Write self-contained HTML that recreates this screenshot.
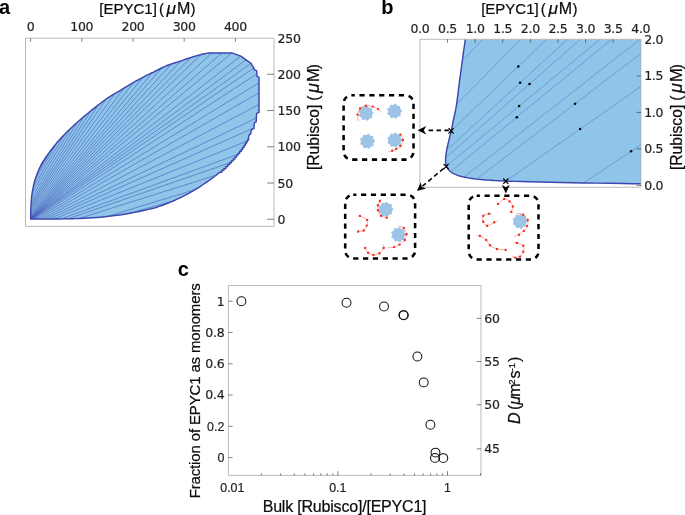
<!DOCTYPE html>
<html lang="en"><head><meta charset="utf-8"><title>Figure</title>
<style>html,body{margin:0;padding:0;background:#fff}svg{display:block}</style></head>
<body>
<svg width="685" height="515" viewBox="0 0 685 515">
<rect width="685" height="515" fill="#fff"/>
<g id="panelA">
<path d="M30.7 219 L30.71 218.5 L30.71 217.81 L30.72 216.99 L30.73 216.12 L30.74 215.27 L30.75 214.5 L30.75 213.94 L30.73 213.57 L30.72 213.21 L30.71 212.71 L30.74 211.89 L30.8 210.6 L30.89 208.73 L30.99 206.4 L31.11 203.76 L31.28 200.96 L31.5 198.15 L31.8 195.5 L32.17 192.95 L32.6 190.38 L33.08 187.81 L33.63 185.25 L34.23 182.74 L34.9 180.3 L35.66 177.88 L36.51 175.47 L37.42 173.09 L38.36 170.81 L39.3 168.66 L40.2 166.7 L41.07 164.96 L41.92 163.41 L42.78 162 L43.63 160.67 L44.51 159.35 L45.4 158 L46.29 156.65 L47.16 155.37 L48.05 154.1 L48.98 152.81 L49.99 151.46 L51.1 150 L52.3 148.44 L53.56 146.81 L54.9 145.11 L56.33 143.36 L57.85 141.55 L59.5 139.7 L61.29 137.77 L63.21 135.76 L65.24 133.7 L67.33 131.61 L69.47 129.54 L71.6 127.5 L73.76 125.49 L75.97 123.47 L78.21 121.46 L80.48 119.47 L82.75 117.52 L85 115.6 L87.3 113.69 L89.66 111.77 L92.03 109.88 L94.33 108.06 L96.51 106.35 L98.5 104.8 L100.22 103.46 L101.7 102.29 L103.06 101.24 L104.41 100.24 L105.85 99.22 L107.5 98.1 L109.37 96.91 L111.36 95.69 L113.45 94.45 L115.61 93.19 L117.8 91.91 L120 90.6 L122.31 89.21 L124.79 87.71 L127.29 86.19 L129.71 84.73 L131.92 83.41 L133.8 82.3 L135.23 81.47 L136.29 80.87 L137.14 80.41 L137.93 79.99 L138.83 79.52 L140 78.9 L141.53 78.08 L143.31 77.13 L145.19 76.12 L147.04 75.14 L148.69 74.27 L150 73.6 L150.8 73.21 L151.17 73.06 L151.35 73.02 L151.57 72.97 L152.08 72.77 L153.1 72.3 L154.72 71.49 L156.76 70.44 L159.07 69.24 L161.53 68 L163.99 66.82 L166.3 65.8 L168.49 64.95 L170.67 64.18 L172.86 63.47 L175.04 62.79 L177.22 62.11 L179.4 61.4 L181.65 60.64 L183.97 59.85 L186.3 59.06 L188.55 58.3 L190.64 57.61 L192.5 57 L194.06 56.5 L195.38 56.09 L196.54 55.74 L197.63 55.43 L198.76 55.12 L200 54.8 L201.46 54.44 L203.07 54.07 L204.72 53.71 L206.26 53.38 L207.56 53.1 L208.5 52.9 L232 52.9 L240.8 56.1 L251.3 63.7 L251.9 65.5 L253.7 67.5 L254.2 69.6 L256.6 70.7 L256.9 75 L257 76.4 L259 77.1 L259 112.3 L256.6 113.3 L256.2 121.8 L254.3 122.8 L253.9 128.5 L251.5 129.5 L250.6 134.2 L249 135.2 L248.5 138 L248.5 139.9 L247.43 139.9 L247.43 141.8 L246.35 141.8 L246.35 143.7 L245.19 143.7 L245.19 145.6 L243.95 145.6 L243.95 147.5 L242.66 147.5 L242.66 149.4 L241.26 149.4 L241.26 151.3 L239.75 151.3 L239.75 153.2 L238.18 153.2 L238.18 155.1 L236.58 155.1 L236.58 157 L234.94 157 L234.94 158.9 L233.25 158.9 L233.25 160.8 L231.51 160.8 L231.51 162.7 L229.71 162.7 L229.71 164.6 L227.84 164.6 L227.84 166.5 L225.92 166.5 L225.92 168.4 L223.95 168.4 L223.95 170.3 L221.91 170.3 L221.91 172.2 L219.78 172.2 L218.4 173.4 L216.45 175 L214.5 176.52 L212.55 177.97 L210.6 179.37 L208.65 180.74 L206.7 182.1 L204.75 183.44 L202.8 184.76 L200.84 186.04 L198.89 187.3 L196.94 188.52 L195 189.7 L193.06 190.85 L191.13 191.96 L189.2 193.03 L187.27 194.08 L185.34 195.1 L183.4 196.1 L181.46 197.08 L179.51 198.04 L177.56 198.97 L175.6 199.87 L173.65 200.75 L171.7 201.6 L169.72 202.43 L167.71 203.24 L165.69 204.02 L163.71 204.76 L161.81 205.46 L160 206.1 L158.51 206.64 L157.34 207.07 L156.24 207.46 L154.96 207.86 L153.23 208.32 L150.8 208.9 L147.52 209.64 L143.58 210.5 L139.19 211.43 L134.59 212.36 L129.98 213.23 L125.6 214 L121.41 214.66 L117.23 215.27 L113.04 215.83 L108.86 216.34 L104.68 216.79 L100.5 217.2 L96.32 217.55 L92.14 217.84 L87.97 218.07 L83.79 218.27 L79.6 218.45 L75.4 218.6 L71.11 218.73 L66.73 218.82 L62.34 218.89 L58.03 218.93 L53.89 218.97 L50 219 L46.19 219.02 L42.37 219.03 L38.71 219.03 L35.41 219.01 L32.64 219 L30.6 219 Z" fill="#8ec5e8" stroke="none"/>
<path d="M129 213.4L172.16 201.4M107 216.54L195 189.7M79 218.47L216.32 175.1M68 218.8L229.51 162.9M61 218.9L236.92 154.7M54 218.97L246.7 141.2M49 219.01L251.6 128.9M45 219.03L256.2 118M42 219.03L259 104.5M39 219.03L259 92.8M36.5 219.02L259 82.8M34.5 219.01L256.6 74M33.2 219.01L253.4 68.3M32.2 219L250.3 63.9M31.8 219L245.9 60M31.4 219L240.8 56.1M31.1 219L232 52.9M31 219L222 52.9M30.9 219L212 52.9M30.6 219L201 54.56M30.7 218.65L191 57.49M30.71 218.2L181 60.86M30.71 217.75L171.5 63.91M30.72 217.15L162 67.78M30.73 216.4L152.5 72.58M30.74 215.4L143 77.29M30.75 214L133.5 82.48M30.72 212.3L124 88.19M30.81 210.4L115 93.54M30.9 208.5L106.5 98.78M30.98 206.5L98.5 104.8M31.07 204.5L91 110.69M31.21 202L84 116.45M31.52 198L77.5 122.1M32.2 192.8L71 128.07M33.25 187L64.7 134.25M34.99 180L58 141.39M37.46 173L52 148.83M40.06 167L47.3 155.17" fill="none" stroke="#3846b2" stroke-width="0.5"/>
<path d="M30.7 219 L30.71 218.5 L30.71 217.81 L30.72 216.99 L30.73 216.12 L30.74 215.27 L30.75 214.5 L30.75 213.94 L30.73 213.57 L30.72 213.21 L30.71 212.71 L30.74 211.89 L30.8 210.6 L30.89 208.73 L30.99 206.4 L31.11 203.76 L31.28 200.96 L31.5 198.15 L31.8 195.5 L32.17 192.95 L32.6 190.38 L33.08 187.81 L33.63 185.25 L34.23 182.74 L34.9 180.3 L35.66 177.88 L36.51 175.47 L37.42 173.09 L38.36 170.81 L39.3 168.66 L40.2 166.7 L41.07 164.96 L41.92 163.41 L42.78 162 L43.63 160.67 L44.51 159.35 L45.4 158 L46.29 156.65 L47.16 155.37 L48.05 154.1 L48.98 152.81 L49.99 151.46 L51.1 150 L52.3 148.44 L53.56 146.81 L54.9 145.11 L56.33 143.36 L57.85 141.55 L59.5 139.7 L61.29 137.77 L63.21 135.76 L65.24 133.7 L67.33 131.61 L69.47 129.54 L71.6 127.5 L73.76 125.49 L75.97 123.47 L78.21 121.46 L80.48 119.47 L82.75 117.52 L85 115.6 L87.3 113.69 L89.66 111.77 L92.03 109.88 L94.33 108.06 L96.51 106.35 L98.5 104.8 L100.22 103.46 L101.7 102.29 L103.06 101.24 L104.41 100.24 L105.85 99.22 L107.5 98.1 L109.37 96.91 L111.36 95.69 L113.45 94.45 L115.61 93.19 L117.8 91.91 L120 90.6 L122.31 89.21 L124.79 87.71 L127.29 86.19 L129.71 84.73 L131.92 83.41 L133.8 82.3 L135.23 81.47 L136.29 80.87 L137.14 80.41 L137.93 79.99 L138.83 79.52 L140 78.9 L141.53 78.08 L143.31 77.13 L145.19 76.12 L147.04 75.14 L148.69 74.27 L150 73.6 L150.8 73.21 L151.17 73.06 L151.35 73.02 L151.57 72.97 L152.08 72.77 L153.1 72.3 L154.72 71.49 L156.76 70.44 L159.07 69.24 L161.53 68 L163.99 66.82 L166.3 65.8 L168.49 64.95 L170.67 64.18 L172.86 63.47 L175.04 62.79 L177.22 62.11 L179.4 61.4 L181.65 60.64 L183.97 59.85 L186.3 59.06 L188.55 58.3 L190.64 57.61 L192.5 57 L194.06 56.5 L195.38 56.09 L196.54 55.74 L197.63 55.43 L198.76 55.12 L200 54.8 L201.46 54.44 L203.07 54.07 L204.72 53.71 L206.26 53.38 L207.56 53.1 L208.5 52.9 L232 52.9 L240.8 56.1 L251.3 63.7 L251.9 65.5 L253.7 67.5 L254.2 69.6 L256.6 70.7 L256.9 75 L257 76.4 L259 77.1 L259 112.3 L256.6 113.3 L256.2 121.8 L254.3 122.8 L253.9 128.5 L251.5 129.5 L250.6 134.2 L249 135.2 L248.5 138 L248.5 139.9 L247.43 139.9 L247.43 141.8 L246.35 141.8 L246.35 143.7 L245.19 143.7 L245.19 145.6 L243.95 145.6 L243.95 147.5 L242.66 147.5 L242.66 149.4 L241.26 149.4 L241.26 151.3 L239.75 151.3 L239.75 153.2 L238.18 153.2 L238.18 155.1 L236.58 155.1 L236.58 157 L234.94 157 L234.94 158.9 L233.25 158.9 L233.25 160.8 L231.51 160.8 L231.51 162.7 L229.71 162.7 L229.71 164.6 L227.84 164.6 L227.84 166.5 L225.92 166.5 L225.92 168.4 L223.95 168.4 L223.95 170.3 L221.91 170.3 L221.91 172.2 L219.78 172.2 L218.4 173.4 L216.45 175 L214.5 176.52 L212.55 177.97 L210.6 179.37 L208.65 180.74 L206.7 182.1 L204.75 183.44 L202.8 184.76 L200.84 186.04 L198.89 187.3 L196.94 188.52 L195 189.7 L193.06 190.85 L191.13 191.96 L189.2 193.03 L187.27 194.08 L185.34 195.1 L183.4 196.1 L181.46 197.08 L179.51 198.04 L177.56 198.97 L175.6 199.87 L173.65 200.75 L171.7 201.6 L169.72 202.43 L167.71 203.24 L165.69 204.02 L163.71 204.76 L161.81 205.46 L160 206.1 L158.51 206.64 L157.34 207.07 L156.24 207.46 L154.96 207.86 L153.23 208.32 L150.8 208.9 L147.52 209.64 L143.58 210.5 L139.19 211.43 L134.59 212.36 L129.98 213.23 L125.6 214 L121.41 214.66 L117.23 215.27 L113.04 215.83 L108.86 216.34 L104.68 216.79 L100.5 217.2 L96.32 217.55 L92.14 217.84 L87.97 218.07 L83.79 218.27 L79.6 218.45 L75.4 218.6 L71.11 218.73 L66.73 218.82 L62.34 218.89 L58.03 218.93 L53.89 218.97 L50 219 L46.19 219.02 L42.37 219.03 L38.71 219.03 L35.41 219.01 L32.64 219 L30.6 219 Z" fill="none" stroke="#3c46b0" stroke-width="1.45" stroke-linejoin="round"/>
<path d="M25.5 38.2H274V226.4H25.5Z" fill="none" stroke="#adadad" stroke-width="0.85"/>
<path d="M30.6 38.2V41.8M81.8 38.2V41.8M133 38.2V41.8M184.2 38.2V41.8M235.4 38.2V41.8M274 219.3H267.2M274 183.04H267.2M274 146.78H267.2M274 110.52H267.2M274 74.26H267.2" stroke="#404040" stroke-width="0.65" fill="none"/>
<text x="30.6" y="31.4" text-anchor="middle" font-family="DejaVu Sans, Liberation Sans, sans-serif" font-size="12.5" letter-spacing="-0.3" stroke="#1f1f1f" stroke-width="0.2" fill="#1f1f1f">0</text>
<text x="81.8" y="31.4" text-anchor="middle" font-family="DejaVu Sans, Liberation Sans, sans-serif" font-size="12.5" letter-spacing="-0.3" stroke="#1f1f1f" stroke-width="0.2" fill="#1f1f1f">100</text>
<text x="133" y="31.4" text-anchor="middle" font-family="DejaVu Sans, Liberation Sans, sans-serif" font-size="12.5" letter-spacing="-0.3" stroke="#1f1f1f" stroke-width="0.2" fill="#1f1f1f">200</text>
<text x="184.2" y="31.4" text-anchor="middle" font-family="DejaVu Sans, Liberation Sans, sans-serif" font-size="12.5" letter-spacing="-0.3" stroke="#1f1f1f" stroke-width="0.2" fill="#1f1f1f">300</text>
<text x="235.4" y="31.4" text-anchor="middle" font-family="DejaVu Sans, Liberation Sans, sans-serif" font-size="12.5" letter-spacing="-0.3" stroke="#1f1f1f" stroke-width="0.2" fill="#1f1f1f">400</text>
<text x="277.6" y="223.8" font-family="DejaVu Sans, Liberation Sans, sans-serif" font-size="12.5" letter-spacing="-0.3" stroke="#1f1f1f" stroke-width="0.2" fill="#1f1f1f">0</text>
<text x="277.6" y="187.54" font-family="DejaVu Sans, Liberation Sans, sans-serif" font-size="12.5" letter-spacing="-0.3" stroke="#1f1f1f" stroke-width="0.2" fill="#1f1f1f">50</text>
<text x="277.6" y="151.28" font-family="DejaVu Sans, Liberation Sans, sans-serif" font-size="12.5" letter-spacing="-0.3" stroke="#1f1f1f" stroke-width="0.2" fill="#1f1f1f">100</text>
<text x="277.6" y="115.02" font-family="DejaVu Sans, Liberation Sans, sans-serif" font-size="12.5" letter-spacing="-0.3" stroke="#1f1f1f" stroke-width="0.2" fill="#1f1f1f">150</text>
<text x="277.6" y="78.76" font-family="DejaVu Sans, Liberation Sans, sans-serif" font-size="12.5" letter-spacing="-0.3" stroke="#1f1f1f" stroke-width="0.2" fill="#1f1f1f">200</text>
<text x="277.6" y="42.5" font-family="DejaVu Sans, Liberation Sans, sans-serif" font-size="12.5" letter-spacing="-0.3" stroke="#1f1f1f" stroke-width="0.2" fill="#1f1f1f">250</text>
<text x="-1.1" y="13.8" font-family="Liberation Sans, Arial, sans-serif" font-size="20" font-weight="bold" fill="#000">a</text>
<text y="14.2" font-family="Liberation Sans, Arial, sans-serif" font-size="15" fill="#0d0d0d" stroke="#0d0d0d" stroke-width="0.22"><tspan x="99.35">[EPYC1]</tspan><tspan x="158.9">(</tspan><tspan x="166.55" font-style="italic" font-size="17.25">μ</tspan><tspan x="176.95" font-size="16.05">M</tspan><tspan x="190.55">)</tspan></text>
<text transform="translate(319.1 170.1) rotate(-90)" font-family="Liberation Sans, Arial, sans-serif" font-size="15.7" fill="#0d0d0d" stroke="#0d0d0d" stroke-width="0.22"><tspan x="0">[Rubisco]</tspan><tspan x="69.3">(</tspan><tspan x="77" font-style="italic" font-size="18.05">μ</tspan><tspan x="88.2" font-size="16.64">M</tspan><tspan x="100.9">)</tspan></text>
</g>
<g id="panelB">
<path d="M465.3 39.4 L464.99 41.61 L464.56 44.65 L464.04 48.26 L463.49 52.19 L462.93 56.19 L462.4 60 L461.89 63.69 L461.38 67.49 L460.86 71.35 L460.33 75.24 L459.81 79.14 L459.3 83 L458.79 86.94 L458.29 91 L457.79 95.06 L457.29 99 L456.79 102.69 L456.3 106 L455.8 108.89 L455.3 111.44 L454.8 113.75 L454.31 115.89 L453.84 117.94 L453.4 120 L453.01 121.97 L452.66 123.79 L452.33 125.51 L452 127.24 L451.63 129.04 L451.2 131 L450.69 133.18 L450.1 135.53 L449.48 137.95 L448.87 140.36 L448.29 142.68 L447.8 144.8 L447.38 146.75 L447 148.6 L446.66 150.35 L446.36 152 L446.11 153.55 L445.9 155 L445.74 156.33 L445.63 157.52 L445.56 158.62 L445.53 159.64 L445.54 160.63 L445.6 161.6 L445.69 162.54 L445.81 163.44 L445.98 164.29 L446.2 165.11 L446.47 165.91 L446.8 166.7 L447.19 167.48 L447.62 168.25 L448.11 168.99 L448.66 169.72 L449.29 170.42 L450 171.1 L450.79 171.76 L451.66 172.4 L452.61 173.02 L453.63 173.61 L454.72 174.17 L455.9 174.7 L457.15 175.19 L458.48 175.64 L459.89 176.06 L461.37 176.45 L462.94 176.83 L464.6 177.2 L466.34 177.56 L468.17 177.9 L470.08 178.23 L472.07 178.54 L474.15 178.83 L476.3 179.1 L478.57 179.35 L480.95 179.57 L483.42 179.77 L485.93 179.96 L488.43 180.13 L490.9 180.3 L493.39 180.46 L495.96 180.61 L498.52 180.76 L501.01 180.89 L503.36 181 L505.5 181.1 L506.83 181.17 L507.29 181.2 L507.6 181.22 L508.5 181.24 L510.73 181.3 L515 181.4 L521.61 181.56 L530.04 181.77 L539.78 182 L550.35 182.24 L561.26 182.48 L572 182.7 L583.6 182.91 L596.67 183.12 L610.06 183.33 L622.67 183.52 L633.35 183.68 L641 183.8 L641 39.4 Z" fill="#8ec5e8" stroke="none"/>
<path d="M464.5 58.4L482.77 39.4M457.2 103.7L520.86 39.4M451.2 131L546.34 39.4M448.3 148.7L567.39 39.4M446.8 156.8L580.17 39.4M446.1 166.4L599.85 39.4M452 170.5L611.39 39.4M464 177L639.96 39.4M476.6 179.1L641 53.42M505.8 181.1L641 86.48M583.8 182.9L641 144.69" fill="none" stroke="#5479cb" stroke-width="0.55"/>
<path d="M465.3 39.4 L464.99 41.61 L464.56 44.65 L464.04 48.26 L463.49 52.19 L462.93 56.19 L462.4 60 L461.89 63.69 L461.38 67.49 L460.86 71.35 L460.33 75.24 L459.81 79.14 L459.3 83 L458.79 86.94 L458.29 91 L457.79 95.06 L457.29 99 L456.79 102.69 L456.3 106 L455.8 108.89 L455.3 111.44 L454.8 113.75 L454.31 115.89 L453.84 117.94 L453.4 120 L453.01 121.97 L452.66 123.79 L452.33 125.51 L452 127.24 L451.63 129.04 L451.2 131 L450.69 133.18 L450.1 135.53 L449.48 137.95 L448.87 140.36 L448.29 142.68 L447.8 144.8 L447.38 146.75 L447 148.6 L446.66 150.35 L446.36 152 L446.11 153.55 L445.9 155 L445.74 156.33 L445.63 157.52 L445.56 158.62 L445.53 159.64 L445.54 160.63 L445.6 161.6 L445.69 162.54 L445.81 163.44 L445.98 164.29 L446.2 165.11 L446.47 165.91 L446.8 166.7 L447.19 167.48 L447.62 168.25 L448.11 168.99 L448.66 169.72 L449.29 170.42 L450 171.1 L450.79 171.76 L451.66 172.4 L452.61 173.02 L453.63 173.61 L454.72 174.17 L455.9 174.7 L457.15 175.19 L458.48 175.64 L459.89 176.06 L461.37 176.45 L462.94 176.83 L464.6 177.2 L466.34 177.56 L468.17 177.9 L470.08 178.23 L472.07 178.54 L474.15 178.83 L476.3 179.1 L478.57 179.35 L480.95 179.57 L483.42 179.77 L485.93 179.96 L488.43 180.13 L490.9 180.3 L493.39 180.46 L495.96 180.61 L498.52 180.76 L501.01 180.89 L503.36 181 L505.5 181.1 L506.83 181.17 L507.29 181.2 L507.6 181.22 L508.5 181.24 L510.73 181.3 L515 181.4 L521.61 181.56 L530.04 181.77 L539.78 182 L550.35 182.24 L561.26 182.48 L572 182.7 L583.6 182.91 L596.67 183.12 L610.06 183.33 L622.67 183.52 L633.35 183.68 L641 183.8" fill="none" stroke="#3c46b0" stroke-width="1.45" stroke-linejoin="round"/>
<path d="M419.9 39.3H640.9V187.25H419.9Z" fill="none" stroke="#adadad" stroke-width="0.85"/>
<path d="M447.51 39.3V42.8M475.12 39.3V42.8M502.73 39.3V42.8M530.34 39.3V42.8M557.95 39.3V42.8M585.56 39.3V42.8M613.17 39.3V42.8M641 185.4H636.5M641 148.9H636.5M641 112.4H636.5M641 75.9H636.5" stroke="#404040" stroke-width="0.65" fill="none"/>
<text x="419.9" y="33" text-anchor="middle" font-family="DejaVu Sans, Liberation Sans, sans-serif" font-size="12.5" letter-spacing="-0.3" stroke="#1f1f1f" stroke-width="0.2" fill="#1f1f1f">0.0</text>
<text x="447.51" y="33" text-anchor="middle" font-family="DejaVu Sans, Liberation Sans, sans-serif" font-size="12.5" letter-spacing="-0.3" stroke="#1f1f1f" stroke-width="0.2" fill="#1f1f1f">0.5</text>
<text x="475.12" y="33" text-anchor="middle" font-family="DejaVu Sans, Liberation Sans, sans-serif" font-size="12.5" letter-spacing="-0.3" stroke="#1f1f1f" stroke-width="0.2" fill="#1f1f1f">1.0</text>
<text x="502.73" y="33" text-anchor="middle" font-family="DejaVu Sans, Liberation Sans, sans-serif" font-size="12.5" letter-spacing="-0.3" stroke="#1f1f1f" stroke-width="0.2" fill="#1f1f1f">1.5</text>
<text x="530.34" y="33" text-anchor="middle" font-family="DejaVu Sans, Liberation Sans, sans-serif" font-size="12.5" letter-spacing="-0.3" stroke="#1f1f1f" stroke-width="0.2" fill="#1f1f1f">2.0</text>
<text x="557.95" y="33" text-anchor="middle" font-family="DejaVu Sans, Liberation Sans, sans-serif" font-size="12.5" letter-spacing="-0.3" stroke="#1f1f1f" stroke-width="0.2" fill="#1f1f1f">2.5</text>
<text x="585.56" y="33" text-anchor="middle" font-family="DejaVu Sans, Liberation Sans, sans-serif" font-size="12.5" letter-spacing="-0.3" stroke="#1f1f1f" stroke-width="0.2" fill="#1f1f1f">3.0</text>
<text x="613.17" y="33" text-anchor="middle" font-family="DejaVu Sans, Liberation Sans, sans-serif" font-size="12.5" letter-spacing="-0.3" stroke="#1f1f1f" stroke-width="0.2" fill="#1f1f1f">3.5</text>
<text x="640.78" y="33" text-anchor="middle" font-family="DejaVu Sans, Liberation Sans, sans-serif" font-size="12.5" letter-spacing="-0.3" stroke="#1f1f1f" stroke-width="0.2" fill="#1f1f1f">4.0</text>
<text x="644.2" y="189.7" font-family="DejaVu Sans, Liberation Sans, sans-serif" font-size="12.5" letter-spacing="-0.3" stroke="#1f1f1f" stroke-width="0.2" fill="#1f1f1f">0.0</text>
<text x="644.2" y="153.2" font-family="DejaVu Sans, Liberation Sans, sans-serif" font-size="12.5" letter-spacing="-0.3" stroke="#1f1f1f" stroke-width="0.2" fill="#1f1f1f">0.5</text>
<text x="644.2" y="116.7" font-family="DejaVu Sans, Liberation Sans, sans-serif" font-size="12.5" letter-spacing="-0.3" stroke="#1f1f1f" stroke-width="0.2" fill="#1f1f1f">1.0</text>
<text x="644.2" y="80.2" font-family="DejaVu Sans, Liberation Sans, sans-serif" font-size="12.5" letter-spacing="-0.3" stroke="#1f1f1f" stroke-width="0.2" fill="#1f1f1f">1.5</text>
<text x="644.2" y="43.7" font-family="DejaVu Sans, Liberation Sans, sans-serif" font-size="12.5" letter-spacing="-0.3" stroke="#1f1f1f" stroke-width="0.2" fill="#1f1f1f">2.0</text>
<circle cx="518.3" cy="66.4" r="1.25" fill="#000"/>
<circle cx="520.1" cy="82.8" r="1.25" fill="#000"/>
<circle cx="529.5" cy="84" r="1.25" fill="#000"/>
<circle cx="519.1" cy="106.1" r="1.25" fill="#000"/>
<circle cx="516.8" cy="117.2" r="1.25" fill="#000"/>
<circle cx="575.1" cy="103.8" r="1.25" fill="#000"/>
<circle cx="580.1" cy="129.1" r="1.25" fill="#000"/>
<circle cx="631.1" cy="151.3" r="1.25" fill="#000"/>
<path d="M448.6 128.1l5 5.4m-5 0l5 -5.4M443.6 163.8l5 5.4m-5 0l5 -5.4M503.3 178.5l5 5.4m-5 0l5 -5.4" stroke="#000" stroke-width="1.25" fill="none"/>
<path d="M448.9 130.4H428" stroke="#000" stroke-width="1.6" stroke-dasharray="4.5 3.4" fill="none"/>
<path d="M417.6 130.3l8.6 -4.2l-2.4 4.2l2.4 4.2z" fill="#000"/>
<path d="M443.6 168.5L422.5 186.2" stroke="#000" stroke-width="1.6" stroke-dasharray="4.6 3.1" fill="none"/>
<path d="M416.9 190.9l3.9 -8.7l0.9 4.7l4.5 1.7z" fill="#000"/>
<path d="M505.8 193.4l-4 -8.6l4 2.4l4 -2.4z" fill="#000"/>
<text x="381.3" y="13.8" font-family="Liberation Sans, Arial, sans-serif" font-size="20" font-weight="bold" fill="#000">b</text>
<text y="14.2" font-family="Liberation Sans, Arial, sans-serif" font-size="15" fill="#0d0d0d" stroke="#0d0d0d" stroke-width="0.22"><tspan x="481.2">[EPYC1]</tspan><tspan x="540.75">(</tspan><tspan x="548.4" font-style="italic" font-size="17.25">μ</tspan><tspan x="558.8" font-size="16.05">M</tspan><tspan x="572.4">)</tspan></text>
<text transform="translate(682.4 170.1) rotate(-90)" font-family="Liberation Sans, Arial, sans-serif" font-size="15.7" fill="#0d0d0d" stroke="#0d0d0d" stroke-width="0.22"><tspan x="0">[Rubisco]</tspan><tspan x="69.3">(</tspan><tspan x="77" font-style="italic" font-size="18.05">μ</tspan><tspan x="88.2" font-size="16.64">M</tspan><tspan x="100.9">)</tspan></text>
</g>
<g id="cartoons">
<rect x="343.6" y="95.3" width="69.9" height="64.3" rx="8" ry="8" fill="none" stroke="#000" stroke-width="2.55" stroke-dasharray="5.2 4.65" stroke-dashoffset="2"/>
<path d="M373.57 113.2 L373.23 113.83 L372.66 114.37 L372.16 114.85 L371.95 115.36 L372.02 116.01 L372.19 116.77 L372.16 117.52 L371.8 118.07 L371.13 118.33 L370.34 118.38 L369.66 118.42 L369.16 118.68 L368.81 119.22 L368.44 119.91 L367.95 120.47 L367.31 120.66 L366.63 120.43 L366 119.96 L365.44 119.55 L364.9 119.43 L364.28 119.62 L363.56 119.91 L362.82 120.02 L362.21 119.76 L361.84 119.14 L361.66 118.38 L361.49 117.71 L361.15 117.27 L360.56 117.01 L359.81 116.77 L359.18 116.38 L358.89 115.79 L358.99 115.08 L359.34 114.37 L359.65 113.76 L359.67 113.2 L359.38 112.62 L358.97 111.96 L358.73 111.25 L358.89 110.61 L359.43 110.13 L360.15 109.82 L360.78 109.54 L361.15 109.13 L361.3 108.5 L361.41 107.73 L361.68 107.04 L362.21 106.64 L362.93 106.63 L363.69 106.85 L364.35 107.04 L364.9 106.97 L365.42 106.58 L366 106.06 L366.66 105.7 L367.31 105.74 L367.88 106.19 L368.31 106.85 L368.69 107.42 L369.16 107.72 L369.81 107.76 L370.59 107.73 L371.32 107.88 L371.8 108.33 L371.94 109.04 L371.85 109.82 L371.78 110.51 L371.95 111.04 L372.42 111.48 L373.03 111.96 L373.5 112.54 Z" fill="#9dc3e6"/>
<path d="M401.97 111.3 L401.63 111.93 L401.06 112.47 L400.56 112.95 L400.35 113.46 L400.42 114.11 L400.59 114.87 L400.56 115.62 L400.2 116.17 L399.53 116.43 L398.74 116.48 L398.06 116.52 L397.56 116.78 L397.21 117.32 L396.84 118.01 L396.35 118.57 L395.71 118.76 L395.03 118.53 L394.4 118.06 L393.84 117.65 L393.3 117.53 L392.68 117.72 L391.96 118.01 L391.22 118.12 L390.61 117.86 L390.24 117.24 L390.06 116.48 L389.89 115.81 L389.55 115.37 L388.96 115.11 L388.21 114.87 L387.58 114.48 L387.29 113.89 L387.39 113.18 L387.74 112.47 L388.05 111.86 L388.07 111.3 L387.78 110.72 L387.37 110.06 L387.13 109.35 L387.29 108.71 L387.83 108.23 L388.55 107.92 L389.18 107.64 L389.55 107.23 L389.7 106.6 L389.81 105.83 L390.08 105.14 L390.61 104.74 L391.33 104.73 L392.09 104.95 L392.75 105.14 L393.3 105.07 L393.82 104.68 L394.4 104.16 L395.06 103.8 L395.71 103.84 L396.28 104.29 L396.71 104.95 L397.09 105.52 L397.56 105.82 L398.21 105.86 L398.99 105.83 L399.72 105.98 L400.2 106.43 L400.34 107.14 L400.25 107.92 L400.18 108.61 L400.35 109.14 L400.82 109.58 L401.43 110.06 L401.9 110.64 Z" fill="#9dc3e6"/>
<path d="M374.97 141.3 L374.63 141.93 L374.06 142.47 L373.56 142.95 L373.35 143.46 L373.42 144.11 L373.59 144.87 L373.56 145.62 L373.2 146.17 L372.53 146.43 L371.74 146.48 L371.06 146.52 L370.56 146.78 L370.21 147.32 L369.84 148.01 L369.35 148.57 L368.71 148.76 L368.03 148.53 L367.4 148.06 L366.84 147.65 L366.3 147.53 L365.68 147.72 L364.96 148.01 L364.22 148.12 L363.61 147.86 L363.24 147.24 L363.06 146.48 L362.89 145.81 L362.55 145.37 L361.96 145.11 L361.21 144.87 L360.58 144.48 L360.29 143.89 L360.39 143.18 L360.74 142.47 L361.05 141.86 L361.07 141.3 L360.78 140.72 L360.37 140.06 L360.13 139.35 L360.29 138.71 L360.83 138.23 L361.55 137.92 L362.18 137.64 L362.55 137.23 L362.7 136.6 L362.81 135.83 L363.08 135.14 L363.61 134.74 L364.33 134.73 L365.09 134.95 L365.75 135.14 L366.3 135.07 L366.82 134.68 L367.4 134.16 L368.06 133.8 L368.71 133.84 L369.28 134.29 L369.71 134.95 L370.09 135.52 L370.56 135.82 L371.21 135.86 L371.99 135.83 L372.72 135.98 L373.2 136.43 L373.34 137.14 L373.25 137.92 L373.18 138.61 L373.35 139.14 L373.82 139.58 L374.43 140.06 L374.9 140.64 Z" fill="#9dc3e6"/>
<path d="M402.27 140.1 L401.93 140.73 L401.36 141.27 L400.86 141.75 L400.65 142.26 L400.72 142.91 L400.89 143.67 L400.86 144.42 L400.5 144.97 L399.83 145.23 L399.04 145.28 L398.36 145.32 L397.86 145.58 L397.51 146.12 L397.14 146.81 L396.65 147.37 L396.01 147.56 L395.33 147.33 L394.7 146.86 L394.14 146.45 L393.6 146.33 L392.98 146.52 L392.26 146.81 L391.52 146.92 L390.91 146.66 L390.54 146.04 L390.36 145.28 L390.19 144.61 L389.85 144.17 L389.26 143.91 L388.51 143.67 L387.88 143.28 L387.59 142.69 L387.69 141.98 L388.04 141.27 L388.35 140.66 L388.37 140.1 L388.08 139.52 L387.67 138.86 L387.43 138.15 L387.59 137.51 L388.13 137.03 L388.85 136.72 L389.48 136.44 L389.85 136.03 L390 135.4 L390.11 134.63 L390.38 133.94 L390.91 133.54 L391.63 133.53 L392.39 133.75 L393.05 133.94 L393.6 133.87 L394.12 133.48 L394.7 132.96 L395.36 132.6 L396.01 132.64 L396.58 133.09 L397.01 133.75 L397.39 134.32 L397.86 134.62 L398.51 134.66 L399.29 134.63 L400.02 134.78 L400.5 135.23 L400.64 135.94 L400.55 136.72 L400.48 137.41 L400.65 137.94 L401.12 138.38 L401.73 138.86 L402.2 139.44 Z" fill="#9dc3e6"/>
<path d="M358.8 120.9 L358.63 120.21 L358.35 119.26 L358.04 118.13 L357.77 116.92 L357.6 115.71 L357.6 114.6 L357.77 113.53 L358.04 112.43 L358.42 111.33 L358.89 110.28 L359.46 109.32 L360.1 108.5 L360.85 107.8 L361.71 107.19 L362.67 106.66 L363.69 106.24 L364.74 105.91 L365.8 105.7 L366.91 105.62 L368.1 105.67 L369.33 105.82 L370.55 106.04 L371.72 106.31 L372.8 106.6 L373.79 106.91 L374.72 107.27 L375.6 107.68 L376.44 108.13 L377.24 108.6 L378 109.1 L378.76 109.68 L379.51 110.35 L380.23 111.06 L380.87 111.73 L381.4 112.3 L381.8 112.7" fill="none" stroke="#ee3124" stroke-width="0.4"/><circle cx="357.6" cy="114.6" r="1.2" fill="#ee3124"/><circle cx="360.1" cy="108.5" r="1.2" fill="#ee3124"/><circle cx="365.8" cy="105.7" r="1.2" fill="#ee3124"/><circle cx="372.8" cy="106.6" r="1.2" fill="#ee3124"/><circle cx="378" cy="109.1" r="1.2" fill="#ee3124"/>
<path d="M399.5 133.8 L399.58 133.83 L399.67 133.84 L399.79 133.86 L399.95 133.96 L400.15 134.19 L400.4 134.6 L400.78 135.23 L401.3 136.04 L401.86 136.97 L402.38 137.99 L402.75 139.01 L402.9 140 L402.79 141 L402.5 142.07 L402.07 143.16 L401.54 144.21 L400.97 145.17 L400.4 146 L399.8 146.67 L399.12 147.23 L398.39 147.71 L397.65 148.12 L396.91 148.51 L396.2 148.9 L395.52 149.28 L394.86 149.63 L394.2 149.96 L393.54 150.26 L392.88 150.54 L392.2 150.8 L391.46 151.05 L390.66 151.3 L389.85 151.52 L389.1 151.71 L388.46 151.88 L388 152" fill="none" stroke="#ee3124" stroke-width="0.4"/><circle cx="400.4" cy="134.6" r="1.2" fill="#ee3124"/><circle cx="402.9" cy="140" r="1.2" fill="#ee3124"/><circle cx="400.4" cy="146" r="1.2" fill="#ee3124"/><circle cx="396.2" cy="148.9" r="1.2" fill="#ee3124"/><circle cx="392.2" cy="150.8" r="1.2" fill="#ee3124"/>
<rect x="345.2" y="194.8" width="69.9" height="63.7" rx="8" ry="8" fill="none" stroke="#000" stroke-width="2.55" stroke-dasharray="5.2 4.65" stroke-dashoffset="2"/>
<path d="M393.37 209.4 L393.03 210.03 L392.46 210.57 L391.96 211.05 L391.75 211.56 L391.82 212.21 L391.99 212.97 L391.96 213.72 L391.6 214.27 L390.93 214.53 L390.14 214.58 L389.46 214.62 L388.96 214.88 L388.61 215.42 L388.24 216.11 L387.75 216.67 L387.11 216.86 L386.43 216.63 L385.8 216.16 L385.24 215.75 L384.7 215.63 L384.08 215.82 L383.36 216.11 L382.62 216.22 L382.01 215.96 L381.64 215.34 L381.46 214.58 L381.29 213.91 L380.95 213.47 L380.36 213.21 L379.61 212.97 L378.98 212.58 L378.69 211.99 L378.79 211.28 L379.14 210.57 L379.45 209.96 L379.47 209.4 L379.18 208.82 L378.77 208.16 L378.53 207.45 L378.69 206.81 L379.23 206.33 L379.95 206.02 L380.58 205.74 L380.95 205.33 L381.1 204.7 L381.21 203.93 L381.48 203.24 L382.01 202.84 L382.73 202.83 L383.49 203.05 L384.15 203.24 L384.7 203.17 L385.22 202.78 L385.8 202.26 L386.46 201.9 L387.11 201.94 L387.68 202.39 L388.11 203.05 L388.49 203.62 L388.96 203.92 L389.61 203.96 L390.39 203.93 L391.12 204.08 L391.6 204.53 L391.74 205.24 L391.65 206.02 L391.58 206.71 L391.75 207.24 L392.22 207.68 L392.83 208.16 L393.3 208.74 Z" fill="#9dc3e6"/>
<path d="M406.07 234.7 L405.73 235.33 L405.16 235.87 L404.66 236.35 L404.45 236.86 L404.52 237.51 L404.69 238.27 L404.66 239.02 L404.3 239.57 L403.63 239.83 L402.84 239.88 L402.16 239.92 L401.66 240.18 L401.31 240.72 L400.94 241.41 L400.45 241.97 L399.81 242.16 L399.13 241.93 L398.5 241.46 L397.94 241.05 L397.4 240.93 L396.78 241.12 L396.06 241.41 L395.32 241.52 L394.71 241.26 L394.34 240.64 L394.16 239.88 L393.99 239.21 L393.65 238.77 L393.06 238.51 L392.31 238.27 L391.68 237.88 L391.39 237.29 L391.49 236.58 L391.84 235.87 L392.15 235.26 L392.17 234.7 L391.88 234.12 L391.47 233.46 L391.23 232.75 L391.39 232.11 L391.93 231.63 L392.65 231.32 L393.28 231.04 L393.65 230.63 L393.8 230 L393.91 229.23 L394.18 228.54 L394.71 228.14 L395.43 228.13 L396.19 228.35 L396.85 228.54 L397.4 228.47 L397.92 228.08 L398.5 227.56 L399.16 227.2 L399.81 227.24 L400.38 227.69 L400.81 228.35 L401.19 228.92 L401.66 229.22 L402.31 229.26 L403.09 229.23 L403.82 229.38 L404.3 229.83 L404.44 230.54 L404.35 231.32 L404.28 232.01 L404.45 232.54 L404.92 232.98 L405.53 233.46 L406 234.04 Z" fill="#9dc3e6"/>
<path d="M381 198.5 L380.89 198.75 L380.74 199.09 L380.57 199.49 L380.37 199.95 L380.14 200.46 L379.9 201 L379.61 201.59 L379.26 202.24 L378.88 202.94 L378.52 203.67 L378.22 204.43 L378 205.2 L377.86 205.99 L377.75 206.82 L377.69 207.67 L377.71 208.54 L377.8 209.42 L378 210.3 L378.3 211.22 L378.68 212.21 L379.14 213.2 L379.69 214.15 L380.31 215 L381 215.7 L381.86 216.24 L382.91 216.66 L384.04 216.99 L385.12 217.24 L386.05 217.43 L386.7 217.6" fill="none" stroke="#ee3124" stroke-width="0.4"/><circle cx="379.9" cy="201" r="1.2" fill="#ee3124"/><circle cx="378" cy="205.2" r="1.2" fill="#ee3124"/><circle cx="378" cy="210.3" r="1.2" fill="#ee3124"/><circle cx="381" cy="215.7" r="1.2" fill="#ee3124"/><circle cx="386.7" cy="217.6" r="1.2" fill="#ee3124"/>
<path d="M359.9 215.9 L360.77 216.32 L362.05 216.87 L363.52 217.54 L365 218.29 L366.26 219.09 L367.1 219.9 L367.5 220.76 L367.63 221.7 L367.54 222.69 L367.31 223.7 L367.01 224.68 L366.7 225.6 L366.38 226.51 L365.99 227.44 L365.52 228.34 L364.98 229.19 L364.37 229.92 L363.7 230.5 L362.86 230.9 L361.85 231.16 L360.76 231.31 L359.72 231.39 L358.83 231.44 L358.2 231.5" fill="none" stroke="#ee3124" stroke-width="0.4"/><circle cx="359.9" cy="215.9" r="1.2" fill="#ee3124"/><circle cx="367.1" cy="219.9" r="1.2" fill="#ee3124"/><circle cx="366.7" cy="225.6" r="1.2" fill="#ee3124"/><circle cx="363.7" cy="230.5" r="1.2" fill="#ee3124"/><circle cx="358.2" cy="231.5" r="1.2" fill="#ee3124"/>
<path d="M398.5 226 L399.11 226.17 L399.97 226.36 L400.98 226.61 L402.03 226.94 L403.01 227.39 L403.8 228 L404.45 228.81 L405.06 229.8 L405.59 230.92 L406.02 232.09 L406.33 233.23 L406.5 234.3 L406.51 235.3 L406.39 236.29 L406.15 237.26 L405.8 238.2 L405.34 239.12 L404.8 240 L404.13 240.85 L403.3 241.69 L402.38 242.5 L401.41 243.26 L400.43 243.97 L399.5 244.6 L398.61 245.16 L397.73 245.66 L396.85 246.1 L395.96 246.49 L395.04 246.82 L394.1 247.1 L393.05 247.32 L391.89 247.46 L390.71 247.56 L389.61 247.61 L388.67 247.66 L388 247.7" fill="none" stroke="#ee3124" stroke-width="0.4"/><circle cx="403.8" cy="228" r="1.2" fill="#ee3124"/><circle cx="406.5" cy="234.3" r="1.2" fill="#ee3124"/><circle cx="404.8" cy="240" r="1.2" fill="#ee3124"/><circle cx="399.5" cy="244.6" r="1.2" fill="#ee3124"/><circle cx="394.1" cy="247.1" r="1.2" fill="#ee3124"/>
<path d="M365.2 248 L365.49 248.55 L365.86 249.34 L366.32 250.27 L366.85 251.22 L367.44 252.1 L368.1 252.8 L368.84 253.35 L369.66 253.84 L370.55 254.26 L371.49 254.58 L372.44 254.8 L373.4 254.9 L374.39 254.88 L375.44 254.74 L376.52 254.51 L377.58 254.17 L378.58 253.73 L379.5 253.2 L380.36 252.52 L381.21 251.66 L382.01 250.71 L382.71 249.73 L383.29 248.8 L383.7 248 L383.89 247.29 L383.89 246.61 L383.76 245.97 L383.57 245.41 L383.4 244.95 L383.3 244.6" fill="none" stroke="#ee3124" stroke-width="0.4"/><circle cx="365.2" cy="248" r="1.2" fill="#ee3124"/><circle cx="368.1" cy="252.8" r="1.2" fill="#ee3124"/><circle cx="373.4" cy="254.9" r="1.2" fill="#ee3124"/><circle cx="379.5" cy="253.2" r="1.2" fill="#ee3124"/><circle cx="383.7" cy="248" r="1.2" fill="#ee3124"/>
<rect x="468.7" y="195.7" width="69.8" height="63.8" rx="8" ry="8" fill="none" stroke="#000" stroke-width="2.55" stroke-dasharray="5.2 4.65" stroke-dashoffset="2"/>
<path d="M527.57 221.4 L527.23 222.03 L526.66 222.57 L526.16 223.05 L525.95 223.56 L526.02 224.21 L526.19 224.97 L526.16 225.72 L525.8 226.27 L525.13 226.53 L524.34 226.58 L523.66 226.62 L523.16 226.88 L522.81 227.42 L522.44 228.11 L521.95 228.67 L521.31 228.86 L520.63 228.63 L520 228.16 L519.44 227.75 L518.9 227.63 L518.28 227.82 L517.56 228.11 L516.82 228.22 L516.21 227.96 L515.84 227.34 L515.66 226.58 L515.49 225.91 L515.15 225.47 L514.56 225.21 L513.81 224.97 L513.18 224.58 L512.89 223.99 L512.99 223.28 L513.34 222.57 L513.65 221.96 L513.67 221.4 L513.38 220.82 L512.97 220.16 L512.73 219.45 L512.89 218.81 L513.43 218.33 L514.15 218.02 L514.78 217.74 L515.15 217.33 L515.3 216.7 L515.41 215.93 L515.68 215.24 L516.21 214.84 L516.93 214.83 L517.69 215.05 L518.35 215.24 L518.9 215.17 L519.42 214.78 L520 214.26 L520.66 213.9 L521.31 213.94 L521.88 214.39 L522.31 215.05 L522.69 215.62 L523.16 215.92 L523.81 215.96 L524.59 215.93 L525.32 216.08 L525.8 216.53 L525.94 217.24 L525.85 218.02 L525.78 218.71 L525.95 219.24 L526.42 219.68 L527.03 220.16 L527.5 220.74 Z" fill="#9dc3e6"/>
<path d="M498 203.9 L498.68 203.27 L499.64 202.33 L500.76 201.24 L501.96 200.2 L503.14 199.36 L504.2 198.9 L505.17 198.85 L506.14 199.08 L507.09 199.52 L507.99 200.1 L508.84 200.75 L509.6 201.4 L510.32 202.1 L511 202.9 L511.63 203.77 L512.16 204.68 L512.56 205.6 L512.8 206.5 L512.8 207.45 L512.59 208.48 L512.25 209.52 L511.86 210.49 L511.52 211.31 L511.3 211.9" fill="none" stroke="#ee3124" stroke-width="0.4"/><circle cx="498" cy="203.9" r="1.2" fill="#ee3124"/><circle cx="504.2" cy="198.9" r="1.2" fill="#ee3124"/><circle cx="509.6" cy="201.4" r="1.2" fill="#ee3124"/><circle cx="512.8" cy="206.5" r="1.2" fill="#ee3124"/><circle cx="511.3" cy="211.9" r="1.2" fill="#ee3124"/>
<path d="M492.3 214.2 L491.97 214.13 L491.53 214.01 L491.01 213.88 L490.4 213.78 L489.73 213.74 L489 213.8 L488.12 213.93 L487.07 214.11 L485.94 214.34 L484.87 214.67 L483.95 215.11 L483.3 215.7 L482.93 216.5 L482.74 217.5 L482.71 218.62 L482.81 219.77 L483.01 220.86 L483.3 221.8 L483.68 222.68 L484.16 223.57 L484.76 224.4 L485.45 225.1 L486.23 225.59 L487.1 225.8 L488.14 225.63 L489.36 225.11 L490.68 224.38 L491.99 223.58 L493.19 222.84 L494.2 222.3 L495.02 221.94 L495.73 221.66 L496.34 221.43 L496.86 221.26 L497.27 221.12 L497.6 221" fill="none" stroke="#ee3124" stroke-width="0.4"/><circle cx="489" cy="213.8" r="1.2" fill="#ee3124"/><circle cx="483.3" cy="215.7" r="1.2" fill="#ee3124"/><circle cx="483.3" cy="221.8" r="1.2" fill="#ee3124"/><circle cx="487.1" cy="225.8" r="1.2" fill="#ee3124"/><circle cx="494.2" cy="222.3" r="1.2" fill="#ee3124"/>
<path d="M516.6 213.4 L517.36 213.5 L518.42 213.59 L519.67 213.72 L520.99 213.93 L522.24 214.24 L523.3 214.7 L524.22 215.33 L525.12 216.11 L525.96 216.99 L526.69 217.95 L527.28 218.93 L527.7 219.9 L527.92 220.89 L527.97 221.94 L527.88 223.02 L527.69 224.1 L527.41 225.14 L527.1 226.1 L526.72 226.99 L526.26 227.84 L525.72 228.65 L525.12 229.43 L524.47 230.17 L523.8 230.9 L523.08 231.61 L522.29 232.31 L521.46 232.98 L520.61 233.61 L519.75 234.19 L518.9 234.7 L518 235.15 L517.03 235.54 L516.04 235.89 L515.13 236.18 L514.36 236.42 L513.8 236.6" fill="none" stroke="#ee3124" stroke-width="0.4"/><circle cx="523.3" cy="214.7" r="1.2" fill="#ee3124"/><circle cx="527.7" cy="219.9" r="1.2" fill="#ee3124"/><circle cx="527.1" cy="226.1" r="1.2" fill="#ee3124"/><circle cx="523.8" cy="230.9" r="1.2" fill="#ee3124"/><circle cx="518.9" cy="234.7" r="1.2" fill="#ee3124"/>
<path d="M476.6 235.3 L476.92 235.34 L477.34 235.36 L477.86 235.4 L478.46 235.5 L479.14 235.68 L479.9 236 L480.81 236.46 L481.87 237.04 L483.02 237.72 L484.17 238.46 L485.26 239.23 L486.2 240 L486.94 240.81 L487.53 241.7 L488.06 242.61 L488.59 243.53 L489.21 244.4 L490 245.2 L490.96 245.95 L492.04 246.68 L493.2 247.37 L494.43 248 L495.7 248.55 L497 249 L498.44 249.33 L500.07 249.55 L501.74 249.69 L503.31 249.77 L504.65 249.84 L505.6 249.9" fill="none" stroke="#ee3124" stroke-width="0.4"/><circle cx="479.9" cy="236" r="1.2" fill="#ee3124"/><circle cx="486.2" cy="240" r="1.2" fill="#ee3124"/><circle cx="490" cy="245.2" r="1.2" fill="#ee3124"/><circle cx="497" cy="249" r="1.2" fill="#ee3124"/><circle cx="505.6" cy="249.9" r="1.2" fill="#ee3124"/>
<path d="M513.8 243.3 L514.11 243.22 L514.51 243.07 L515.01 242.92 L515.59 242.8 L516.25 242.78 L517 242.9 L517.94 243.16 L519.1 243.51 L520.35 243.95 L521.55 244.48 L522.58 245.1 L523.3 245.8 L523.7 246.63 L523.89 247.61 L523.9 248.68 L523.78 249.77 L523.56 250.83 L523.3 251.8 L522.96 252.71 L522.5 253.63 L521.96 254.51 L521.34 255.33 L520.68 256.03 L520 256.6 L519.26 257.02 L518.42 257.32 L517.54 257.52 L516.67 257.62 L515.84 257.65 L515.1 257.6 L514.43 257.43 L513.79 257.11 L513.19 256.71 L512.67 256.3 L512.23 255.94 L511.9 255.7" fill="none" stroke="#ee3124" stroke-width="0.4"/><circle cx="517" cy="242.9" r="1.2" fill="#ee3124"/><circle cx="523.3" cy="245.8" r="1.2" fill="#ee3124"/><circle cx="523.3" cy="251.8" r="1.2" fill="#ee3124"/><circle cx="520" cy="256.6" r="1.2" fill="#ee3124"/><circle cx="515.1" cy="257.6" r="1.2" fill="#ee3124"/>
</g>
<g id="panelC">
<path d="M228.4 285.5H481V475.4H228.4Z" fill="none" stroke="#adadad" stroke-width="0.85"/>
<path d="M228.4 457.6H232.6M228.4 426.32H232.6M228.4 395.04H232.6M228.4 363.76H232.6M228.4 332.48H232.6M228.4 301.2H232.6M481 318.3H476.8M481 361.5H476.8M481 404.8H476.8M481 448.8H476.8M261.29 475.4V473.2M280.59 475.4V473.2M294.29 475.4V473.2M304.91 475.4V473.2M313.59 475.4V473.2M320.92 475.4V473.2M327.28 475.4V473.2M332.88 475.4V473.2M337.9 475.4V471.2M370.89 475.4V473.2M390.19 475.4V473.2M403.89 475.4V473.2M414.51 475.4V473.2M423.19 475.4V473.2M430.52 475.4V473.2M436.88 475.4V473.2M442.48 475.4V473.2M447.5 475.4V471.2M480.49 475.4V473.2" stroke="#404040" stroke-width="0.65" fill="none"/>
<text x="224.3" y="461.9" text-anchor="end" font-family="Liberation Sans, Arial, sans-serif" font-size="12.4" stroke="#1f1f1f" stroke-width="0.2" fill="#1f1f1f">0</text>
<text x="224.3" y="430.62" text-anchor="end" font-family="Liberation Sans, Arial, sans-serif" font-size="12.4" stroke="#1f1f1f" stroke-width="0.2" fill="#1f1f1f">0.2</text>
<text x="224.3" y="399.34" text-anchor="end" font-family="DejaVu Sans, Liberation Sans, sans-serif" font-size="12.5" letter-spacing="-0.3" stroke="#1f1f1f" stroke-width="0.2" fill="#1f1f1f">0.4</text>
<text x="224.3" y="368.06" text-anchor="end" font-family="DejaVu Sans, Liberation Sans, sans-serif" font-size="12.5" letter-spacing="-0.3" stroke="#1f1f1f" stroke-width="0.2" fill="#1f1f1f">0.6</text>
<text x="224.3" y="336.78" text-anchor="end" font-family="DejaVu Sans, Liberation Sans, sans-serif" font-size="12.5" letter-spacing="-0.3" stroke="#1f1f1f" stroke-width="0.2" fill="#1f1f1f">0.8</text>
<text x="224.3" y="305.5" text-anchor="end" font-family="DejaVu Sans, Liberation Sans, sans-serif" font-size="12.5" letter-spacing="-0.3" stroke="#1f1f1f" stroke-width="0.2" fill="#1f1f1f">1</text>
<text x="484.3" y="322.7" font-family="DejaVu Sans, Liberation Sans, sans-serif" font-size="12.5" letter-spacing="-0.3" stroke="#1f1f1f" stroke-width="0.2" fill="#1f1f1f">60</text>
<text x="484.3" y="365.9" font-family="DejaVu Sans, Liberation Sans, sans-serif" font-size="12.5" letter-spacing="-0.3" stroke="#1f1f1f" stroke-width="0.2" fill="#1f1f1f">55</text>
<text x="484.3" y="409.2" font-family="DejaVu Sans, Liberation Sans, sans-serif" font-size="12.5" letter-spacing="-0.3" stroke="#1f1f1f" stroke-width="0.2" fill="#1f1f1f">50</text>
<text x="484.3" y="453.2" font-family="DejaVu Sans, Liberation Sans, sans-serif" font-size="12.5" letter-spacing="-0.3" stroke="#1f1f1f" stroke-width="0.2" fill="#1f1f1f">45</text>
<text x="232.3" y="492.3" text-anchor="middle" font-family="Liberation Sans, Arial, sans-serif" font-size="12.4" stroke="#1f1f1f" stroke-width="0.2" fill="#1f1f1f">0.01</text>
<text x="337.8" y="492.3" text-anchor="middle" font-family="Liberation Sans, Arial, sans-serif" font-size="12.4" stroke="#1f1f1f" stroke-width="0.2" fill="#1f1f1f">0.1</text>
<text x="447.5" y="492.3" text-anchor="middle" font-family="Liberation Sans, Arial, sans-serif" font-size="12.4" stroke="#1f1f1f" stroke-width="0.2" fill="#1f1f1f">1</text>
<circle cx="241.4" cy="301.2" r="4.45" fill="none" stroke="#111" stroke-width="1.05"/>
<circle cx="346.5" cy="302.7" r="4.45" fill="none" stroke="#111" stroke-width="1.05"/>
<circle cx="384" cy="306.5" r="4.45" fill="none" stroke="#111" stroke-width="1.05"/>
<circle cx="403.4" cy="315.1" r="4.45" fill="none" stroke="#111" stroke-width="1.05"/>
<circle cx="403.8" cy="315.3" r="4.45" fill="none" stroke="#111" stroke-width="1.05"/>
<circle cx="417.4" cy="356.5" r="4.45" fill="none" stroke="#111" stroke-width="1.05"/>
<circle cx="423.7" cy="382.4" r="4.45" fill="none" stroke="#111" stroke-width="1.05"/>
<circle cx="430.4" cy="424.7" r="4.45" fill="none" stroke="#111" stroke-width="1.05"/>
<circle cx="435.5" cy="452.6" r="4.45" fill="none" stroke="#111" stroke-width="1.05"/>
<circle cx="435" cy="457.9" r="4.45" fill="none" stroke="#111" stroke-width="1.05"/>
<circle cx="443.3" cy="458.1" r="4.45" fill="none" stroke="#111" stroke-width="1.05"/>
<text x="177.8" y="275.5" font-family="Liberation Sans, Arial, sans-serif" font-size="20" font-weight="bold" fill="#000">c</text>
<text transform="translate(200.4 498.3) rotate(-90)" font-family="Liberation Sans, Arial, sans-serif" font-size="15" letter-spacing="-0.15" stroke="#0d0d0d" stroke-width="0.22" fill="#0d0d0d">Fraction of EPYC1 as monomers</text>
<text x="262.7" y="511.5" font-family="Liberation Sans, Arial, sans-serif" font-size="16" stroke="#0d0d0d" stroke-width="0.22" letter-spacing="-0.2" fill="#0d0d0d">Bulk [Rubisco]/[EPYC1]</text>
<text transform="translate(519.9 423.9) rotate(-90)" font-family="Liberation Sans, Arial, sans-serif" font-size="16" stroke="#0d0d0d" stroke-width="0.22" fill="#0d0d0d"><tspan x="0" font-style="italic">D</tspan><tspan x="13.9">(</tspan><tspan x="19.2" font-style="italic">μ</tspan><tspan x="27.2">m</tspan><tspan x="39.2" dy="-5.3" font-size="9.5">2</tspan><tspan x="45.4" dy="5.3">s</tspan><tspan x="52.6" dy="-5.3" font-size="9.5">-1</tspan><tspan x="62" dy="5.3">)</tspan></text>
</g>
</svg>
</body></html>
